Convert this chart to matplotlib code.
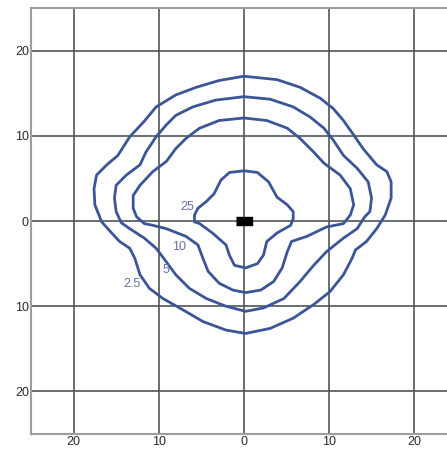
import matplotlib.pyplot as plt
import numpy as np

plt.rcParams['font.family'] = ['Liberation Sans', 'DejaVu Sans']

# contour vertices (x, y), counter-clockwise from the top
c25_x = [0, -1.7, -2.7, -3.5, -4.4, -5.4, -5.8, -5.8, -5.2, -3.7, -2.1, -1.7, -1.1, 0.2,
         1.6, 2.3, 2.7, 3.9, 5.5, 5.8, 5.8, 5.1, 3.9, 2.9, 1.6]
c25_y = [5.9, 5.7, 4.8, 3.2, 2.3, 1.5, 0.7, -0.1, -0.3, -1.4, -2.8, -4.0, -5.2, -5.5,
         -5.0, -4.0, -2.4, -1.4, -0.5, 0.3, 1.1, 1.9, 2.8, 4.6, 5.7]

c10_x = [0, -2.9, -5.2, -6.8, -8.0, -9.1, -10.7, -12.2, -13.0, -13.0, -12.6, -11.7, -10.7, -9.1,
         -6.8, -5.4, -4.8, -4.2, -2.9, -1.3, 0.2, 2.0, 3.5, 4.5, 5.1, 5.6, 7.4, 9.7, 11.7,
         12.5, 12.9, 12.5, 11.3, 9.4, 8.2, 6.6, 5.1, 2.7]
c10_y = [12.1, 11.8, 10.9, 9.7, 8.5, 7.0, 5.8, 4.2, 3.0, 1.5, 0.5, -0.3, -0.5, -0.9,
         -1.8, -2.8, -4.4, -5.9, -7.3, -8.1, -8.4, -8.1, -7.1, -5.5, -3.6, -2.4, -1.8, -0.7, -0.3,
         0.7, 1.9, 3.8, 5.4, 6.8, 8.1, 9.7, 10.9, 11.8]

c5_x = [0, -3.3, -6.0, -8.0, -9.1, -10.3, -11.5, -12.2, -13.8, -15.0, -15.2, -15.0, -14.4, -13.4,
        -11.7, -10.3, -9.1, -8.0, -6.4, -4.4, -2.1, 0.2, 2.3, 4.7, 6.6, 8.2, 9.7, 11.7, 13.3,
        14.2, 14.8, 15.0, 14.6, 13.3, 11.7, 10.5, 9.4, 7.8, 5.8, 3.1]
c5_y = [14.6, 14.2, 13.4, 12.4, 11.3, 9.9, 8.1, 6.6, 5.4, 4.2, 2.7, 1.1, -0.2, -0.9,
        -2.0, -3.2, -4.8, -6.3, -7.9, -9.1, -10.0, -10.6, -10.2, -9.1, -7.1, -5.2, -3.6, -2.0, -0.9,
        0.5, 1.1, 2.7, 4.6, 6.2, 7.7, 9.5, 10.9, 12.2, 13.4, 14.3]

c2_5_x = [0, -2.9, -5.6, -8.0, -10.3, -11.8, -13.4, -14.8, -16.1, -17.3, -17.6, -17.5, -16.7, -15.8,
          -14.6, -13.4, -12.8, -12.2, -11.1, -9.5, -7.2, -4.8, -2.1, 0.2, 3.1, 5.8, 8.2, 10.1,
          11.7, 12.7, 13.1, 14.4, 15.6, 16.6, 17.3, 17.3, 16.8, 15.6, 14.0, 12.9, 11.7, 10.5,
          9.0, 6.6, 3.9]
c2_5_y = [17.0, 16.5, 15.7, 14.8, 13.4, 11.6, 9.9, 7.7, 6.6, 5.4, 3.8, 1.9, -0.1, -1.1,
          -2.4, -3.2, -4.4, -6.3, -7.9, -9.1, -10.4, -11.8, -12.8, -13.2, -12.6, -11.4, -9.8, -8.3,
          -6.3, -4.4, -3.4, -2.4, -0.9, 0.7, 2.7, 4.6, 5.8, 6.6, 8.5, 10.1, 11.8, 13.2,
          14.4, 15.7, 16.6]

levels = ['25', '10', '5', '2.5']
label_x = [-6.6, -7.6, -9.2, -13.2]
label_y = [1.7, -3.1, -5.7, -7.4]

ticks = [-20, -10, 0, 10, 20]
tick_labels = ['20', '10', '0', '10', '20']

line_col = '#3b5597'

fig = plt.figure(figsize=(4.47, 4.49), dpi=100)
ax = fig.add_axes([0.0694, 0.0334, 0.9306, 0.9486])

for xs, ys in [(c25_x, c25_y), (c10_x, c10_y), (c5_x, c5_y), (c2_5_x, c2_5_y)]:
    ax.plot(xs + xs[:1], ys + ys[:1], color=line_col, lw=2.0,
            solid_joinstyle='round', solid_capstyle='round')

for t, lx, ly in zip(levels, label_x, label_y):
    ax.text(lx, ly, t, color='#6570a8', fontsize=9, ha='center', va='center')

# source marker at origin
ax.plot([0], [0], marker=[(-2, -1), (2, -1), (2, 1), (-2, 1)], ms=12, color='black', ls='none')

ax.set_xlim(-25, 23.86)
ax.set_ylim(-25, 25)
ax.set_xticks(ticks)
ax.set_xticklabels(tick_labels)
ax.set_yticks(ticks)
ax.set_yticklabels(tick_labels)
ax.tick_params(length=0, pad=1.5, labelsize=9, labelcolor='#2a2a2a')
ax.grid(True, color='#4f555b', lw=1.2)
ax.set_axisbelow(True)
for s in ['left', 'bottom', 'top']:
    ax.spines[s].set_color('#9a9fa3')
    ax.spines[s].set_linewidth(1.5)
ax.spines['right'].set_visible(False)

fig.savefig('out.png', dpi=100)
